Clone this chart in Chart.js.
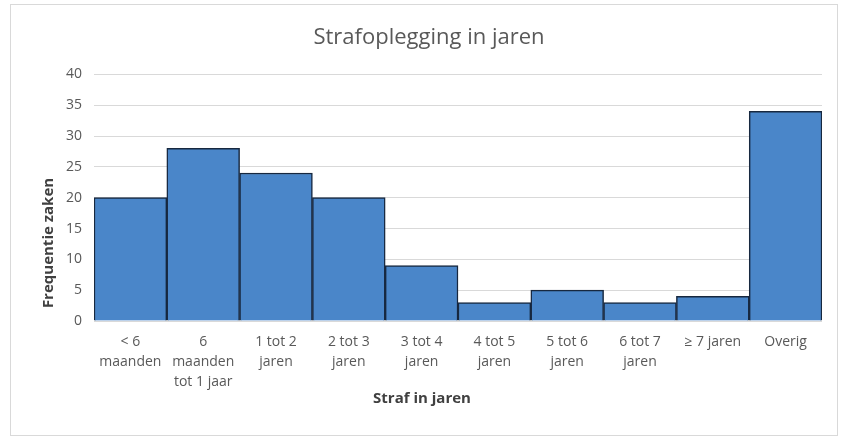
<!DOCTYPE html>
<html>
<head>
<meta charset="utf-8">
<script src="https://cdn.jsdelivr.net/npm/chart.js@4"></script>
<style>
html,body{margin:0;padding:0;background:#fff;width:843px;height:441px;overflow:hidden;}
#box{position:absolute;left:10px;top:4px;width:826px;height:430px;border:1px solid #d9d9d9;}
canvas{display:block;}
</style>
</head>
<body>
<div id="box"><canvas id="c" width="826" height="430"></canvas></div>
<script>
const categories = [["< 6","maanden"],["6","maanden","tot 1 jaar"],["1 tot 2","jaren"],["2 tot 3","jaren"],["3 tot 4","jaren"],["4 tot 5","jaren"],["5 tot 6","jaren"],["6 tot 7","jaren"],["≥ 7 jaren"],["Overig"]];
const values = [20, 28, 24, 20, 9, 3, 5, 3, 4, 34];
const yTicks = {min: 0, max: 40, step: 5};
const titleText = "Strafoplegging in jaren";
const xTitle = "Straf in jaren";
const yTitle = "Frequentie zaken";

const FONT = "'Open Sans', 'Noto Sans', sans-serif";

// Axis titles are placed off-centre in the reference, so draw them as canvas text.
const axisTitles = {
  id: 'axisTitles',
  afterDraw(chart) {
    const ctx = chart.ctx;
    ctx.save();
    ctx.fillStyle = '#404040';
    ctx.font = "bold 15px " + FONT;
    ctx.textAlign = 'center';
    ctx.textBaseline = 'middle';
    // x title
    ctx.fillText(xTitle, 411, 394);
    // y title
    ctx.translate(38, 238);
    ctx.rotate(-Math.PI / 2);
    ctx.fillText(yTitle, 0, 0);
    ctx.restore();
  }
};

new Chart(document.getElementById('c'), {
  type: 'bar',
  data: {
    labels: categories,
    datasets: [{
      data: values,
      backgroundColor: '#4a86c9',
      borderColor: '#17283f',
      borderWidth: 1.5,
      barPercentage: 1,
      categoryPercentage: 1
    }]
  },
  plugins: [axisTitles],
  options: {
    responsive: false,
    animation: false,
    layout: {padding: {left: 25, right: 15, top: 0, bottom: 25}},
    plugins: {
      legend: {display: false},
      tooltip: {enabled: false},
      title: {
        display: true,
        text: titleText,
        color: '#595959',
        font: {family: FONT, size: 22, weight: 'normal'},
        padding: {top: 20, bottom: 23}
      }
    },
    scales: {
      x: {
        grid: {display: false, drawTicks: false},
        border: {display: false},
        ticks: {color: '#595959', font: {family: FONT, size: 14, lineHeight: 1.43}, maxRotation: 0, autoSkip: false, padding: 11},
        title: {display: false},
        afterFit: s => { s.height = 89; }
      },
      y: {
        min: yTicks.min, max: yTicks.max,
        ticks: {stepSize: yTicks.step, color: '#595959', font: {family: FONT, size: 14}, padding: 12},
        grid: {color: '#d9d9d9', lineWidth: 1, drawTicks: false},
        border: {display: false},
        title: {display: false},
        afterFit: s => { s.width = 58; }
      }
    }
  }
});
</script>
</body>
</html>
